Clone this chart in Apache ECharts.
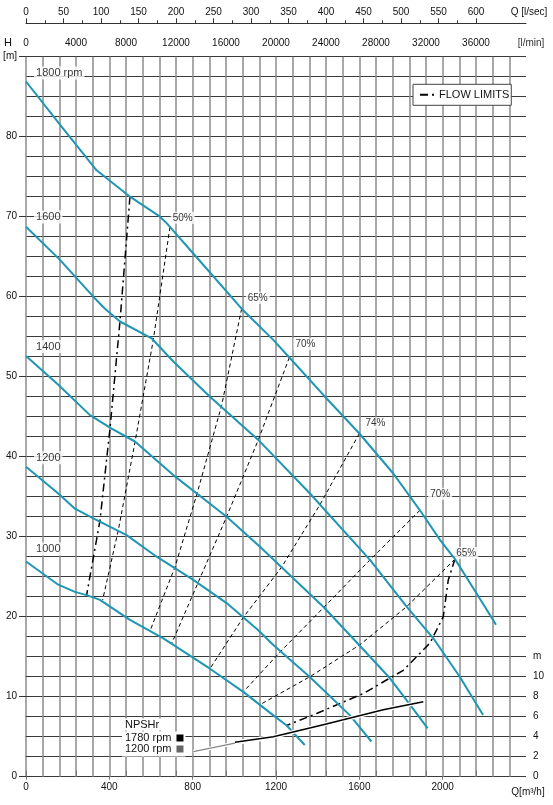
<!DOCTYPE html>
<html><head><meta charset="utf-8">
<script src="https://cdn.jsdelivr.net/npm/echarts@6/dist/echarts.min.js"></script>
<style>html,body{margin:0;padding:0;background:#fff}#c{width:553px;height:805px}</style>
</head><body><div id="c"></div>
<script>
// ---- tick labels ----
const qM3hLabels = [0, 400, 800, 1200, 1600, 2000, 2400];
const qLminLabels = [0, 4000, 8000, 12000, 16000, 20000, 24000, 28000, 32000, 36000, 40000];
const qLminTicks = [0, 4000, 8000, 12000, 16000, 20000, 24000, 28000, 32000, 36000];
const qLsLabels = [0, 50, 100, 150, 200, 250, 300, 350, 400, 450, 500, 550, 600, 2400 / 3.6];
const qLsMajor = [0, 50, 100, 150, 200, 250, 300, 350, 400, 450, 500, 550, 600];
const qLsMinor = [25, 75, 125, 175, 225, 275, 325, 375, 425, 475, 525, 575];
const npshLabels = [0, 2, 4, 6, 8, 10, 12];
const npshTicks = [0, 2, 4, 6, 8, 10];

// ---- pump curves [Q m3/h, H m] ----
const rpm1800 = [[0,86.9],[163,81.5],[339,75.8],[499,72.5],[643,70.0],[675,69.2],[803,65.4],[1035,58.5],[1187,54.6],[1264,52.4],[1435,47.5],[1600,42.9],[1763,37.9],[1891,33.3],[1987,29.6],[2059,27.2],[2163,22.9],[2256,19.0]];
const rpm1600 = [[0,68.75],[163,64.6],[323,60.0],[379,58.5],[451,56.9],[603,54.8],[707,51.9],[883,47.5],[1115,42.1],[1363,35.4],[1651,27.1],[1827,21.25],[1955,17.3],[2082,12.5],[2194,7.7]];
const rpm1400 = [[0,52.6],[155,49.0],[307,45.2],[411,43.5],[523,41.9],[707,37.7],[963,32.5],[1123,28.75],[1251,25.6],[1427,21.25],[1580,17.0],[1747,12.3],[1843,9.0],[1928,6.05]];
const rpm1200 = [[0,38.75],[155,35.4],[235,33.5],[323,32.3],[483,30.2],[627,27.5],[803,24.6],[963,21.7],[1115,18.3],[1186,16.5],[1361,12.5],[1554,7.7],[1658,4.4]];
const rpm1000 = [[0,26.9],[155,24.0],[235,23.1],[291,22.7],[355,22.1],[499,19.6],[659,17.3],[883,13.5],[1043,10.6],[1186,7.7],[1251,6.4],[1338,3.96]];

// ---- iso-efficiency lines ----
const eff50 = [[691,68.7],[611,54.6],[523,41.8],[443,30.8],[368,22.1]];
const eff65a = [[1035,58.5],[939,46.4],[819,35.2],[715,26.2],[595,18.2]];
const eff70a = [[1264,52.4],[1115,42.1],[963,32.5],[825,24.2],[700,16.7]];
const eff74 = [[1600,42.9],[1411,34.0],[1227,26.2],[1040,19.8],[883,13.5]];
const eff70b = [[1891,33.3],[1651,27.1],[1427,21.1],[1220,15.6],[1043,10.6]];
const eff65b = [[2059,27.2],[1827,21.25],[1603,16.5],[1363,12.5],[1123,9.0]];

// ---- flow limits ----
const flowLeft = [[499,72.5],[451,56.9],[403,43.5],[355,32.0],[291,22.7]];
const flowRight = [[2059,27.2],[2027,24.6],[2003,20.0],[1939,16.7],[1811,13.3],[1619,10.4],[1395,7.9],[1251,6.4]];

// ---- NPSHr [Q m3/h, NPSH m] ----
const npsh1780 = [[1003,3.45],[1187,4.0],[1427,5.2],[1715,6.7],[1907,7.5]];
const npsh1200 = [[803,2.5],[1003,3.35],[1187,3.9]];

// ---- curve labels [Q, H, text] ----
const rpmLabels = [[41,87.9,'1800 rpm'],[41,69.9,'1600'],[41,53.7,'1400'],[41,39.8,'1200'],[41,28.4,'1000']];
const effLabels = [[697,69.8,'50%'],[1057,59.8,'65%'],[1286,54.0,'70%'],[1622,44.1,'74%'],[1933,35.3,'70%'],[2058,27.9,'65%']];

const FONT = 'Liberation Sans, Arial, sans-serif';
const BLUE = '#1e96b4';
const chart = echarts.init(document.getElementById('c'), null, {renderer: 'canvas'});

function pump(name, data) {
  return {type:'line', name, data, symbol:'none', silent:true, z:5,
    lineStyle:{color:BLUE, width:2}, itemStyle:{color:BLUE}};
}
function eff(data) {
  return {type:'line', data, symbol:'none', silent:true, z:4,
    lineStyle:{color:'#000', width:1, type:[4,3]}, itemStyle:{color:'#000'}};
}
function flow(data) {
  return {type:'line', name:'FLOW LIMITS', data, symbol:'none', silent:true, z:4,
    lineStyle:{color:'#000', width:1.5, type:[8,4,2,4]}, itemStyle:{color:'#000'}};
}
function labels(data, size) {
  return {type:'scatter', data, symbolSize:1, silent:true, z:3,
    itemStyle:{color:'rgba(255,255,255,0)'},
    label:{show:true, position:[0,0], align:'left', verticalAlign:'middle',
      formatter:p=>p.value[2], color:'#000', fontFamily:FONT, fontSize:size,
      backgroundColor:'#fff', padding:[1,2]}};
}

const axisText = {color:'#111', fontFamily:FONT, fontSize:10};

chart.setOption({
  animation:false,
  backgroundColor:'#fff',
  textStyle:{fontFamily:FONT},
  title:{text:'NPSHr', left:122, top:718.5, padding:[1,3,0,3], backgroundColor:'#fff',
    textStyle:{fontSize:11, fontWeight:'normal', color:'#111', fontFamily:FONT}},
  legend:[
    {data:['FLOW LIMITS'], left:413, top:84.3, orient:'horizontal',
      padding:[5,2,5,6], borderColor:'#444', borderWidth:1, backgroundColor:'#fff',
      itemWidth:14, itemHeight:10, itemGap:5,
      itemStyle:{opacity:0},
      lineStyle:{width:2, color:'#000', type:[8,4,2,4]},
      textStyle:{fontSize:11, color:'#111', fontFamily:FONT}},
    {data:[{name:'1780 rpm', icon:'rect'},{name:'1200 rpm', icon:'rect'}],
      left:122, top:731.5, orient:'vertical', align:'right',
      padding:[1,2,2,3], backgroundColor:'#fff', itemWidth:7, itemHeight:7, itemGap:0,
      lineStyle:{width:0, opacity:0},
      textStyle:{fontSize:11, color:'#111', fontFamily:FONT}}
  ],
  grid:{left:26, right:27, top:56.7, bottom:28.3, containLabel:false},
  xAxis:[
    {type:'value', position:'bottom', min:0, max:2400, interval:400,
      axisLine:{show:false},
      axisTick:{show:true, customValues:[0,400,800,1200,1600,2000], length:3, lineStyle:{color:'#777'}},
      axisLabel:Object.assign({}, axisText, {customValues:qM3hLabels, margin:6,
        formatter:v=>v===2400?'{n|Q[m³/h]}':String(v),
        rich:{n:{fontSize:10, fontFamily:FONT, color:'#111', padding:[5,0,0,4]}}}),
      splitLine:{show:true, lineStyle:{color:'#8c8c8c', width:1.5}},
      minorTick:{show:false, splitNumber:5},
      minorSplitLine:{show:true, lineStyle:{color:'#8c8c8c', width:1.5}}},
    {type:'value', position:'top', offset:0, min:0, max:40000,
      axisLine:{show:false},
      axisTick:{show:true, customValues:qLminTicks, length:6, lineStyle:{color:'#777'}},
      axisLabel:Object.assign({}, axisText, {customValues:qLminLabels, margin:8,
        formatter:v=>v===40000?'{n|[l/min]}':String(v),
        rich:{n:{fontSize:10, fontFamily:FONT, color:'#333', padding:[0,0,0,10]}}}),
      splitLine:{show:false}},
    {type:'value', position:'top', offset:33.4, min:0, max:2400/3.6,
      axisLine:{show:true, lineStyle:{color:'#333', width:1}},
      axisTick:{show:true, customValues:qLsMajor, length:5, lineStyle:{color:'#333'}},
      axisLabel:Object.assign({}, axisText, {customValues:qLsLabels, margin:6,
        formatter:v=>v>650?'{n|Q [l/sec]}':String(v),
        rich:{n:{fontSize:10, fontFamily:FONT, color:'#111', padding:[0,0,0,6]}}}),
      splitLine:{show:false}},
    {type:'value', position:'top', offset:33.4, min:0, max:2400/3.6,
      axisLine:{show:false},
      axisTick:{show:true, customValues:qLsMinor, length:3, lineStyle:{color:'#333'}},
      axisLabel:{show:false}, splitLine:{show:false}}
  ],
  yAxis:[
    {type:'value', position:'left', min:0, max:90, interval:10,
      name:'H', nameLocation:'end', nameGap:8,
      nameTextStyle:{align:'right', verticalAlign:'bottom', padding:[0,14,0,0], fontSize:11, color:'#111', fontFamily:FONT},
      axisLine:{show:false},
      axisTick:{show:true, length:7, lineStyle:{color:'#333'}},
      axisLabel:Object.assign({}, axisText, {margin:9, formatter:v=>v===90?'[m]':String(v)}),
      splitLine:{show:true, lineStyle:{color:'#3a3a3a', width:1}},
      minorTick:{show:false, splitNumber:4},
      minorSplitLine:{show:true, lineStyle:{color:'#3a3a3a', width:1}}},
    {type:'value', position:'right', min:0, max:72, interval:2,
      axisLine:{show:false},
      axisTick:{show:true, customValues:npshTicks, length:5, lineStyle:{color:'#333'}},
      axisLabel:Object.assign({}, axisText, {customValues:npshLabels, margin:7, formatter:v=>v===12?'m':String(v)}),
      splitLine:{show:false}}
  ],
  series:[
    eff(eff50), eff(eff65a), eff(eff70a), eff(eff74), eff(eff70b), eff(eff65b),
    flow(flowLeft), flow(flowRight),
    pump('1800', rpm1800), pump('1600', rpm1600), pump('1400', rpm1400), pump('1200', rpm1200), pump('1000', rpm1000),
    {type:'line', data:npsh1200, yAxisIndex:1, symbol:'none', silent:true, z:6,
      lineStyle:{color:'#fff', width:3.5}, itemStyle:{color:'#fff'}},
    {type:'line', name:'1200 rpm', data:npsh1200, yAxisIndex:1, symbol:'none', silent:true, z:7,
      lineStyle:{color:'#888', width:1.2}, itemStyle:{color:'#666'}},
    {type:'line', data:npsh1780, yAxisIndex:1, symbol:'none', silent:true, z:8,
      lineStyle:{color:'#fff', width:4}, itemStyle:{color:'#fff'}},
    {type:'line', name:'1780 rpm', data:npsh1780, yAxisIndex:1, symbol:'none', silent:true, z:9,
      lineStyle:{color:'#000', width:1.6}, itemStyle:{color:'#000'}},
    labels(rpmLabels, 11),
    labels(effLabels, 10)
  ]
});
</script>
</body></html>
